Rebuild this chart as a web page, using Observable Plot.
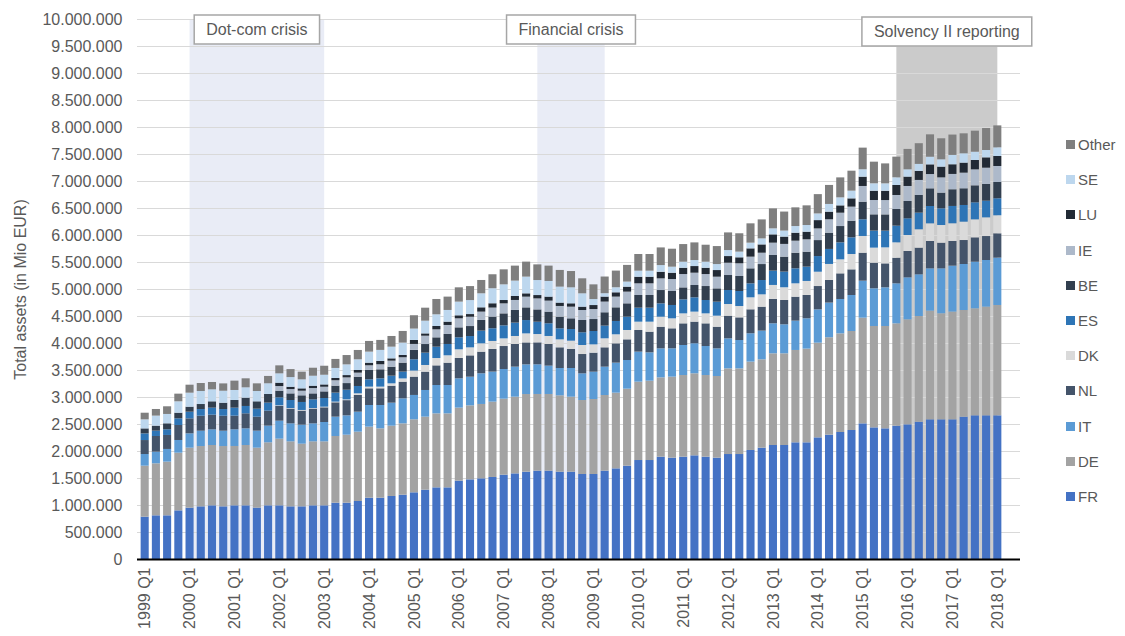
<!DOCTYPE html>
<html>
<head>
<meta charset="utf-8">
<script src="https://cdn.jsdelivr.net/npm/d3@7"></script>
<script src="https://cdn.jsdelivr.net/npm/@observablehq/plot@0.6"></script>
<style>
  body { margin: 0; background: #fff; font-family: "Liberation Sans", Arial, sans-serif; }
  #wrap { position: relative; width: 1125px; height: 636px; overflow: hidden; }
  #legend { position: absolute; left: 1066px; top: 127px; color: #595959; font-size: 15px; }
  .item { height: 35.2px; display: flex; align-items: center; }
  .sw { width: 9px; height: 9px; margin-right: 3px; }
</style>
</head>
<body>
<div id="wrap"><div id="legend"></div></div>
<script>
// ---- Data (values in thousand Mio EUR) ----
const years = d3.range(1999, 2019);
const quarters = years.flatMap(y => ["Q1", "Q2", "Q3", "Q4"].map(q => `${y} ${q}`)).slice(0, 77);
const xTickLabels = years.map(y => `${y} Q1`);

const FR = [784,809,809,901,951,975,994,975,994,994,951,994,994,975,975,994,994,1043,1043,
  1074,1136,1136,1167,1191,1235,1284,1327,1327,1451,1475,1494,1519,1562,1586,1617,1636,1636,1617,1617,
  1574,1574,1636,1679,1728,1833,1833,1895,1877,1895,1920,1895,1877,1944,1944,2019,2062,2111,2111,
  2161,2161,2253,2303,2352,2389,2512,2438,2420,2469,2494,2543,2587,2587,2587,2636,2661,2661,2661];
const DE = [944,963,994,1068,1111,1117,1117,1117,1099,1117,1111,1167,1235,1204,1161,1185,1185,1235,1259,
  1284,1315,1284,1302,1321,1352,1352,1370,1370,1352,1370,1377,1395,1407,1420,1438,1420,1420,1414,1389,
  1370,1389,1401,1401,1426,1451,1469,1469,1500,1512,1519,1512,1512,1586,1586,1636,1636,1698,1698,
  1710,1735,1753,1803,1827,1833,1957,1877,1895,1895,1944,1957,2012,1963,1994,1975,1981,2012,2043];
const IT = [216,216,235,235,265,284,290,284,309,309,315,309,333,333,352,333,358,358,358,
  370,401,432,426,463,451,494,525,525,543,531,568,556,549,556,549,549,525,506,531,
  494,506,525,556,531,556,525,537,525,556,556,537,512,556,525,525,531,556,537,
  543,562,617,642,636,667,685,698,716,741,778,772,784,833,852,852,864,864,877];
const NL = [259,290,259,278,278,278,272,278,253,278,259,278,274,274,260,274,272,266,282,
  309,309,309,315,309,340,340,364,414,377,395,401,420,426,420,407,407,401,383,352,
  358,352,358,358,383,401,383,401,370,401,401,420,401,420,420,444,444,451,451,
  444,432,432,420,475,475,519,475,444,475,488,494,506,475,457,444,451,444,451];
const DK = [0,0,0,0,0,0,0,0,0,0,0,0,10,10,12,10,12,12,14,
  31,31,31,43,60,111,123,136,136,160,148,154,148,142,148,167,154,148,148,154,
  167,154,167,167,173,154,185,185,185,185,185,185,204,216,210,222,228,259,235,
  247,259,265,296,259,284,309,278,296,284,296,340,327,327,327,340,333,346,333];
const ES = [123,99,105,123,123,123,130,123,148,136,148,148,148,148,148,160,160,167,179,
  136,136,154,142,126,210,228,210,210,222,210,235,235,241,247,247,228,235,204,216,
  235,247,235,247,247,259,259,247,247,259,265,247,259,259,278,259,265,265,290,
  278,265,290,278,315,309,309,315,309,309,309,309,321,309,321,309,315,309,315];
const BE = [93,93,111,105,93,93,117,117,142,154,136,160,123,123,123,111,123,130,123,
  173,173,167,167,167,173,160,173,185,185,185,198,216,222,235,235,228,216,216,198,
  228,222,247,253,247,235,235,247,259,222,228,259,247,278,278,278,296,290,278,
  290,278,296,302,302,309,327,302,302,309,321,327,327,290,309,309,315,309,302];
const IE = [0,0,0,0,0,0,0,0,0,0,0,0,86,80,86,99,86,99,105,
  74,86,93,111,99,111,154,148,167,167,173,154,167,185,185,198,204,204,198,216,
  185,185,198,198,216,216,216,216,222,247,228,222,216,228,235,216,210,228,235,
  222,228,216,247,247,259,290,265,265,259,278,278,265,284,284,290,296,302,296];
const LU = [0,0,0,0,0,0,0,0,0,0,0,0,62,43,43,43,43,43,43,
  49,49,62,43,43,74,43,62,62,56,49,80,80,62,74,62,62,74,62,62,
  62,74,93,80,93,123,123,123,117,117,123,117,123,123,111,154,154,154,136,
  148,142,154,142,136,154,173,173,173,185,173,167,179,198,179,185,173,191,185];
const SE = [167,185,173,210,259,241,222,222,185,191,191,198,173,179,167,185,179,185,198,
  198,204,204,216,228,210,235,216,216,253,259,259,278,290,284,309,278,290,296,296,
  247,111,62,93,93,111,111,123,111,111,111,111,111,111,105,105,111,111,111,
  123,123,123,142,148,142,136,136,136,142,136,130,142,136,173,173,154,136,160];
const Other = [123,123,142,142,148,148,136,136,173,167,142,136,148,148,142,148,167,167,173,
  173,198,185,198,216,247,241,284,247,265,259,247,259,278,278,278,290,284,309,302,
  278,272,309,309,309,309,309,327,333,327,327,315,333,327,340,358,352,370,352,
  346,364,358,352,370,370,401,401,370,383,377,383,414,389,377,370,389,407,407];

const seriesNames = ["FR", "DE", "IT", "NL", "DK", "ES", "BE", "IE", "LU", "SE", "Other"];
const seriesData = {FR, DE, IT, NL, DK, ES, BE, IE, LU, SE, Other};
const yTicks = d3.range(0, 10000001, 500000);

const periods = [
  {label: "Dot-com crisis", start: "2000 Q1", end: "2003 Q1"},
  {label: "Financial crisis", start: "2007 Q4", end: "2009 Q2"},
  {label: "Solvency II reporting", start: "2015 Q4", end: "2018 Q1"}
];

// ---- Styles ----
const colors = ["#4472c4", "#a3a3a3", "#5b9bd5", "#44546a", "#dadada", "#2e75b6",
                "#323f4f", "#adb9ca", "#222a35", "#bdd7ee", "#7f7f7f"];
const shadeFills = ["#e9ecf6", "#e9ecf6", "#cbcbcb"];
const textColor = "#595959";
const fontFamily = "'Liberation Sans', Arial, sans-serif";

const rows = seriesNames.flatMap(s => quarters.map((q, i) => ({quarter: q, series: s, value: seriesData[s][i] * 1000})));
const fmt = d => d3.format(",")(d).replace(/,/g, ".");
const yMax = 10000000;

const ctx = document.createElement("canvas").getContext("2d");
ctx.font = `16px ${fontFamily}`;

function shades(index, scales) {
  const x = scales.x, y = scales.y;
  const bw = x.bandwidth ? x.bandwidth() : 0;
  const g = d3.create("svg:g");
  periods.forEach((p, k) => {
    const x1 = x(p.start) + bw / 2, x2 = x(p.end) + bw / 2;
    g.append("rect").attr("x", x1).attr("width", x2 - x1)
      .attr("y", y(yMax)).attr("height", y(0) - y(yMax)).attr("fill", shadeFills[k]);
  });
  return g.node();
}

function boxes(index, scales) {
  const x = scales.x, y = scales.y;
  const bw = x.bandwidth ? x.bandwidth() : 0;
  const g = d3.create("svg:g");
  periods.forEach((p, k) => {
    const cx = (x(p.start) + x(p.end)) / 2 + bw / 2;
    const w = ctx.measureText(p.label).width + 24;
    const top = y(yMax) - 4 + (k === 2 ? 2 : 0);
    g.append("rect").attr("x", cx - w / 2).attr("y", top).attr("width", w).attr("height", 29)
      .attr("fill", "white").attr("stroke", "#a6a6a6").attr("stroke-width", 1.5);
    g.append("text").attr("x", cx).attr("y", top + 14.5).attr("dy", "0.35em")
      .attr("text-anchor", "middle").attr("fill", textColor)
      .attr("font-size", 16).attr("font-family", fontFamily).text(p.label);
  });
  return g.node();
}

const chart = Plot.plot({
  width: 1125,
  height: 636,
  marginLeft: 137,
  marginRight: 105,
  marginTop: 19,
  marginBottom: 77,
  style: {fontFamily, color: textColor, background: "white", fontSize: "16px"},
  x: {domain: quarters, range: [137.5, 1004.5], padding: 0.28, round: false, axis: null},
  y: {domain: [0, yMax], axis: null},
  color: {domain: seriesNames, range: colors},
  marks: [
    shades,
    Plot.gridY(yTicks, {stroke: "#d9d9d9", strokeOpacity: 1, strokeWidth: 1}),
    Plot.barY(rows, {x: "quarter", y: "value", fill: "series", order: seriesNames}),
    Plot.ruleY([0], {stroke: "#000", strokeWidth: 2}),
    Plot.axisY(yTicks, {tickFormat: fmt, tickSize: 0, tickPadding: 15, fontSize: 16, label: null}),
    Plot.axisX(xTickLabels, {tickSize: 0, tickRotate: -90, tickPadding: 8, fontSize: 16, textAnchor: "end", label: null}),
    Plot.text(["Total assets (in Mio EUR)"], {frameAnchor: "left", rotate: -90, dx: -117, fontSize: 16, fill: textColor, textAnchor: "middle"}),
    boxes
  ]
});
document.getElementById("wrap").prepend(chart);

// Legend (top to bottom, reversed series order)
const legend = d3.select("#legend");
seriesNames.slice().reverse().forEach(s => {
  const item = legend.append("div").attr("class", "item");
  item.append("div").attr("class", "sw").style("background", colors[seriesNames.indexOf(s)]);
  item.append("span").text(s);
});
</script>
</body>
</html>
